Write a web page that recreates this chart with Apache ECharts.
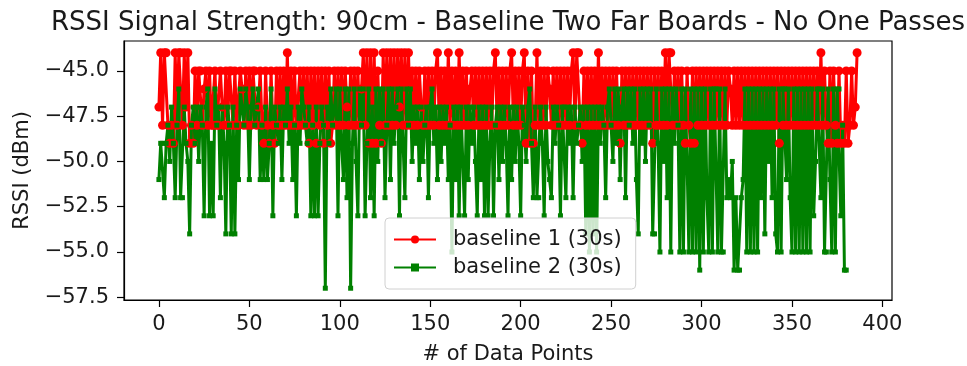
<!DOCTYPE html>
<html>
<head>
<meta charset="utf-8">
<script src="https://cdn.jsdelivr.net/npm/echarts@6/dist/echarts.min.js"></script>
<style>
  html, body { margin: 0; padding: 0; background: #fff; }
  #chart { width: 967px; height: 366px; }
</style>
</head>
<body>
<div id="chart"></div>
<script>
// RSSI readings (dBm), one per data point
const baseline1 = [
  -47, -44, -48, -44, -44, -48, -49, -48, -49, -44,
  -48, -44, -44, -48, -44, -47, -44, -49, -48, -49,
  -45, -48, -45, -45, -48, -46, -45, -48, -45, -48,
  -48, -45, -48, -48, -45, -47, -48, -45, -48, -45,
  -45, -48, -45, -48, -48, -45, -46, -48, -45, -48,
  -45, -48, -45, -45, -48, -47, -45, -48, -49, -45,
  -48, -49, -45, -48, -49, -45, -48, -45, -48, -45,
  -48, -44, -48, -45, -48, -45, -48, -48, -45, -48,
  -45, -48, -45, -49, -45, -48, -45, -49, -45, -48,
  -45, -49, -45, -48, -45, -49, -48, -45, -48, -45,
  -48, -45, -48, -45, -47, -48, -45, -48, -45, -48,
  -45, -48, -46, -44, -48, -44, -49, -44, -49, -44,
  -49, -45, -48, -49, -44, -48, -44, -48, -44, -48,
  -44, -48, -44, -47, -44, -48, -44, -48, -44, -48,
  -45, -48, -45, -48, -45, -47, -48, -45, -48, -45,
  -48, -45, -48, -45, -44, -48, -45, -48, -45, -48,
  -44, -48, -45, -48, -45, -48, -44, -48, -45, -48,
  -45, -48, -46, -45, -48, -45, -48, -45, -48, -45,
  -48, -45, -48, -45, -48, -45, -44, -48, -45, -48,
  -45, -48, -45, -48, -45, -44, -48, -45, -48, -45,
  -48, -45, -44, -49, -45, -49, -45, -49, -48, -44,
  -48, -45, -48, -45, -48, -45, -46, -48, -45, -48,
  -45, -48, -45, -48, -45, -48, -45, -48, -45, -44,
  -48, -44, -44, -48, -49, -45, -48, -45, -48, -45,
  -48, -45, -48, -44, -48, -45, -48, -45, -48, -45,
  -48, -45, -48, -45, -48, -49, -45, -48, -45, -48,
  -45, -48, -45, -48, -45, -48, -45, -48, -45, -48,
  -45, -48, -45, -49, -45, -48, -45, -48, -45, -48,
  -44, -48, -44, -44, -48, -45, -48, -45, -48, -45,
  -48, -49, -45, -48, -49, -45, -49, -45, -48, -45,
  -48, -45, -48, -45, -48, -45, -48, -45, -48, -45,
  -48, -45, -48, -45, -48, -45, -46, -48, -45, -48,
  -45, -48, -45, -48, -45, -48, -45, -48, -45, -48,
  -45, -48, -45, -48, -45, -48, -45, -48, -45, -48,
  -45, -48, -45, -49, -45, -48, -45, -48, -45, -48,
  -45, -48, -45, -48, -45, -48, -45, -48, -45, -48,
  -45, -48, -45, -48, -45, -48, -44, -48, -45, -48,
  -49, -45, -49, -45, -48, -49, -45, -49, -48, -49,
  -45, -49, -48, -45, -48, -47, -44
];

const baseline2 = [
  -51, -49, -49, -52, -49, -48, -50, -47, -49, -52,
  -48, -46, -52, -52, -47, -49, -50, -54, -48, -47,
  -49, -47, -50, -47, -48, -53, -47, -46, -53, -49,
  -53, -46, -48, -47, -52, -47, -49, -54, -47, -48,
  -54, -47, -54, -48, -51, -46, -47, -48, -46, -47,
  -51, -47, -46, -48, -47, -46, -51, -48, -51, -47,
  -51, -49, -46, -53, -47, -48, -49, -47, -51, -47,
  -48, -46, -49, -47, -51, -48, -53, -47, -49, -46,
  -47, -48, -49, -47, -53, -48, -53, -47, -53, -49,
  -47, -48, -57, -47, -49, -46, -48, -47, -46, -53,
  -46, -49, -51, -46, -52, -46, -57, -49, -46, -50,
  -53, -46, -48, -46, -53, -49, -46, -52, -47, -53,
  -46, -50, -46, -49, -46, -52, -48, -46, -51, -46,
  -49, -47, -46, -53, -46, -49, -52, -46, -48, -46,
  -50, -47, -49, -47, -51, -47, -50, -48, -47, -52,
  -47, -46, -49, -47, -51, -47, -50, -47, -49, -47,
  -51, -48, -55, -47, -51, -47, -53, -47, -50, -53,
  -47, -51, -47, -49, -47, -50, -53, -47, -51, -47,
  -53, -47, -53, -49, -47, -53, -48, -47, -51, -47,
  -50, -47, -49, -53, -47, -51, -47, -50, -47, -49,
  -53, -47, -48, -50, -47, -46, -49, -52, -47, -52,
  -52, -47, -49, -53, -47, -50, -51, -52, -47, -49,
  -47, -48, -53, -47, -47, -52, -47, -49, -47, -52,
  -47, -49, -48, -47, -50, -47, -54, -47, -55, -47,
  -54, -47, -55, -47, -49, -47, -48, -52, -47, -46,
  -48, -50, -46, -49, -46, -51, -47, -46, -52, -46,
  -48, -46, -49, -46, -51, -54, -46, -49, -46, -50,
  -46, -48, -46, -54, -54, -46, -49, -55, -46, -50,
  -46, -52, -46, -55, -46, -49, -46, -48, -55, -46,
  -55, -46, -50, -55, -46, -55, -46, -55, -46, -56,
  -46, -55, -46, -52, -55, -46, -55, -46, -46, -55,
  -46, -55, -55, -46, -52, -51, -52, -50, -56, -52,
  -56, -56, -52, -51, -46, -55, -46, -55, -46, -55,
  -46, -55, -46, -52, -46, -54, -46, -50, -46, -52,
  -46, -54, -55, -46, -55, -46, -46, -51, -46, -52,
  -55, -46, -55, -46, -55, -46, -55, -46, -55, -46,
  -55, -46, -53, -50, -46, -46, -52, -46, -55, -55,
  -46, -51, -55, -46, -55, -46, -46, -53, -48, -56,
  -56
];

const xTicks = [0, 50, 100, 150, 200, 250, 300, 350, 400];
const yTicks = [-57.5, -55, -52.5, -50, -47.5, -45];

const FONT = 'DejaVu Sans';
const TEXT = '#1a1a1a';
const minus = s => s.replace('-', '\u2212');

const chart = echarts.init(document.getElementById('chart'), null, { renderer: 'canvas' });

chart.setOption({
  animation: false,
  title: {
    text: 'RSSI Signal Strength: 90cm - Baseline Two Far Boards - No One Passes',
    left: 503,
    textAlign: 'center',
    top: 5,
    textStyle: { fontFamily: FONT, fontSize: 26, fontWeight: 'normal', color: TEXT },
  },
  grid: {
    left: 124,
    right: 75,
    top: 41,
    bottom: 66,
    outerBoundsMode: 'none',
    show: true,
    borderColor: '#000',
    borderWidth: 1.2,
    backgroundColor: 'transparent',
  },
  legend: {
    left: 385,
    top: 218,
    orient: 'vertical',
    itemWidth: 42,
    itemHeight: 10,
    itemGap: 7,
    padding: [11, 14, 11, 8],
    backgroundColor: 'rgba(255,255,255,0.8)',
    borderColor: '#d0d0d0',
    borderWidth: 1,
    borderRadius: 4,
    textStyle: { fontFamily: FONT, fontSize: 21, color: TEXT, lineHeight: 21, padding: [0, 0, 0, 12] },
    data: ['baseline 1 (30s)', 'baseline 2 (30s)'],
  },
  xAxis: {
    type: 'value',
    min: -19.3,
    max: 405.3,
    name: '# of Data Points',
    nameLocation: 'middle',
    nameGap: 44,
    nameTextStyle: { fontFamily: FONT, fontSize: 21, color: TEXT },
    axisLine: { show: true, onZero: false, lineStyle: { color: '#000', width: 1.2 } },
    axisTick: { show: true, length: 7, lineStyle: { color: '#000', width: 1.2 }, customValues: xTicks },
    axisLabel: {
      fontFamily: FONT, fontSize: 21, color: TEXT, margin: 14,
      customValues: xTicks,
      formatter: v => minus(String(v)),
    },
    splitLine: { show: false },
  },
  yAxis: {
    type: 'value',
    min: -57.65,
    max: -43.35,
    name: 'RSSI (dBm)',
    nameLocation: 'middle',
    nameGap: 91,
    nameRotate: 90,
    nameTextStyle: { fontFamily: FONT, fontSize: 21, color: TEXT },
    axisLine: { show: true, onZero: false, lineStyle: { color: '#000', width: 1.2 } },
    axisTick: { show: true, length: 7, lineStyle: { color: '#000', width: 1.2 }, customValues: yTicks },
    axisLabel: {
      fontFamily: FONT, fontSize: 21, color: TEXT, margin: 15,
      customValues: yTicks,
      formatter: v => minus(v.toFixed(1)),
    },
    splitLine: { show: false },
  },
  series: [
    {
      name: 'baseline 1 (30s)',
      type: 'line',
      symbol: 'circle',
      symbolSize: 9,
      showAllSymbol: true,
      color: '#ff0000',
      lineStyle: { width: 3, color: '#ff0000' },
      itemStyle: { color: '#ff0000' },
      data: baseline1.map((v, i) => [i, v]),
    },
    {
      name: 'baseline 2 (30s)',
      type: 'line',
      symbol: 'rect',
      symbolSize: 5,
      showAllSymbol: true,
      color: '#008000',
      lineStyle: { width: 3, color: '#008000' },
      itemStyle: { color: '#008000' },
      data: baseline2.map((v, i) => [i, v]),
    },
  ],
});
</script>
</body>
</html>
